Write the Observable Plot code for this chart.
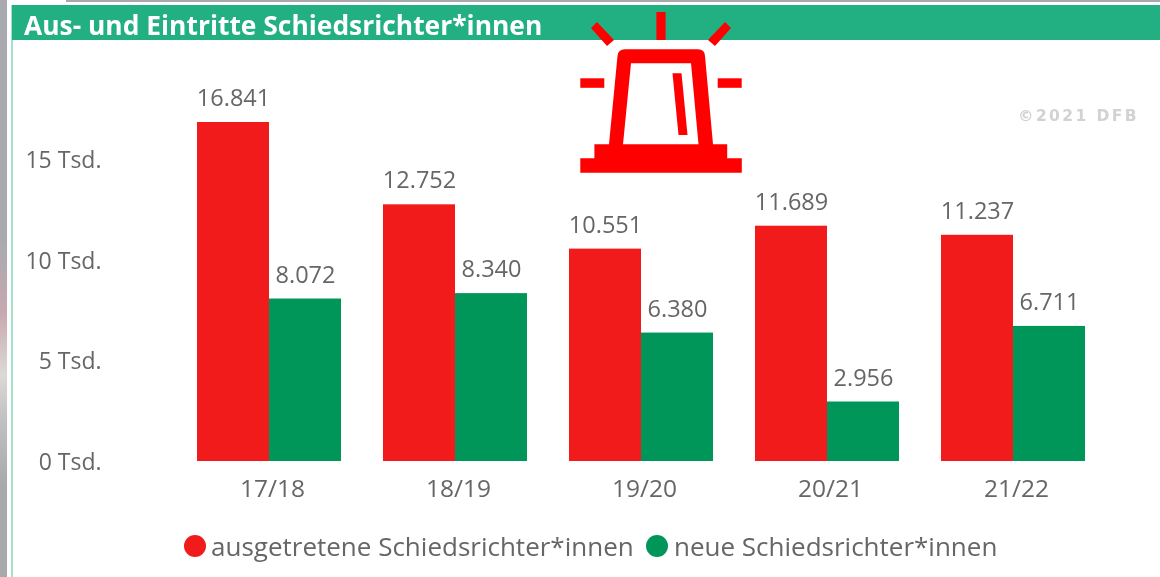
<!DOCTYPE html>
<html><head><meta charset="utf-8">
<script src="https://cdn.jsdelivr.net/npm/d3@7"></script>
<script src="https://cdn.jsdelivr.net/npm/@observablehq/plot@0.6"></script>
<style>
html,body{margin:0;padding:0;width:1160px;height:577px;overflow:hidden;background:#fff;font-family:"Open Sans",sans-serif}
#wrap{position:absolute;left:0;top:0;width:1160px;height:577px;filter:blur(.45px)}
#top{position:absolute;left:66px;top:0;width:1094px;height:2px;background:#a8a8a8}
#edge{position:absolute;left:0;top:0;width:7px;height:577px;background:linear-gradient(#a9aab0 0,#a9aab0 42%,#c7a8b0 54%,#dcd9d5 65%,#c0c0c2 73%,#a9a9ab 84%,#a9a9ab 100%)}
#border{position:absolute;left:11px;top:5px;width:2px;height:572px;background:#a5e0cb}
#head{position:absolute;left:12px;top:5px;width:1148px;height:35px;background:#22af82;color:#fff;font:700 26.4px/40px "Open Sans",sans-serif;padding-left:12px;box-sizing:border-box;white-space:nowrap}
#chart{position:absolute;left:0;top:0}
#siren{position:absolute;left:0;top:0}
#copy{position:absolute;left:1018px;top:107px;font:bold 15.5px/18px "DejaVu Sans",sans-serif;color:#d2d2d2;letter-spacing:2.4px;white-space:nowrap;filter:blur(.6px)}
.lg{position:absolute;top:528px;font:26px/36px "Open Sans",sans-serif;color:#666;white-space:nowrap}
.dot{position:absolute;top:535px;width:22px;height:22px;border-radius:50%}
</style></head><body>
<div id="wrap">
<div id="top"></div><div id="edge"></div><div id="border"></div>
<div id="head">Aus- und Eintritte Schiedsrichter*innen</div>
<div id="chart"></div>
<svg id="siren" width="1160" height="200" fill="#f00">
<rect x="656.4" y="12" width="9.2" height="28"/>
<path d="M597 22 L591 28 L607 46 L614 40Z M725 22 L731 28 L715 46 L708 40Z"/>
<rect x="580.3" y="78.3" width="24" height="9.5"/><rect x="717.7" y="78.3" width="24" height="9.5"/>
<path fill-rule="evenodd" d="M625 49.3 H698 Q704.7 49.3 705 56 L713 144.3 H727.2 V158.3 H741.8 V172.7 H580.3 V158.3 H594.4 V144.3 H609 L617.5 56 Q618 49.3 625 49.3Z M631 63.3 L623 144.3 H698.5 L691 63.3Z"/>
<path d="M672.5 73.3 H681.5 L687.5 135 H678.5Z"/>
</svg>
<div id="copy">©2021 DFB</div>
<div class="dot" style="left:184px;background:#f21b1b"></div>
<div class="lg" id="l1" style="left:211px"></div>
<div class="dot" style="left:646px;background:#00965a"></div>
<div class="lg" id="l2" style="left:674px"></div>
</div>
<script>
const seasons = ["17/18","18/19","19/20","20/21","21/22"];
const seriesNames = ["ausgetretene Schiedsrichter*innen","neue Schiedsrichter*innen"];
const ausgetreten = [16841,12752,10551,11689,11237];
const neu = [8072,8340,6380,2956,6711];
const seriesColors = ["#f21b1b","#00965a"];
const yTicks = [0,5000,10000,15000];

document.getElementById("l1").textContent = seriesNames[0];
document.getElementById("l2").textContent = seriesNames[1];

const rows = seasons.flatMap((s,i)=>[
  {season:s, series:seriesNames[0], value:ausgetreten[i]},
  {season:s, series:seriesNames[1], value:neu[i]}
]);
const fmt = v => d3.format(",")(v).replace(/,/g,".");

const plot = Plot.plot({
  width:1160, height:577,
  marginLeft:197, marginRight:75, marginTop:60, marginBottom:116,
  style:{background:"transparent",fontFamily:"'Open Sans',sans-serif"},
  fx:{domain:seasons, paddingInner:42/186, paddingOuter:0, label:null},
  x:{domain:seriesNames, padding:0, axis:null},
  y:{domain:[0,19921], label:null, axis:null},
  color:{domain:seriesNames, range:seriesColors},
  marks:[
    Plot.barY(rows,{fx:"season",x:"series",y:"value",fill:"series"}),
    Plot.text(rows,{fx:"season",x:"series",y:"value",text:d=>fmt(d.value),dy:-24,fill:"#666",fontSize:23.5,lineAnchor:"middle"}),
    Plot.axisY({ticks:yTicks,tickSize:0,tickPadding:96,dy:1,anchor:"left",tickFormat:d=>`${d/1000} Tsd.`,label:null,fontSize:23,color:"#666"}),
    Plot.axisFx({anchor:"bottom",tickSize:0,tickPadding:18,dx:3,label:null,fontSize:24.5,color:"#666"})
  ]
});
document.getElementById("chart").appendChild(plot);
</script>
</body></html>
